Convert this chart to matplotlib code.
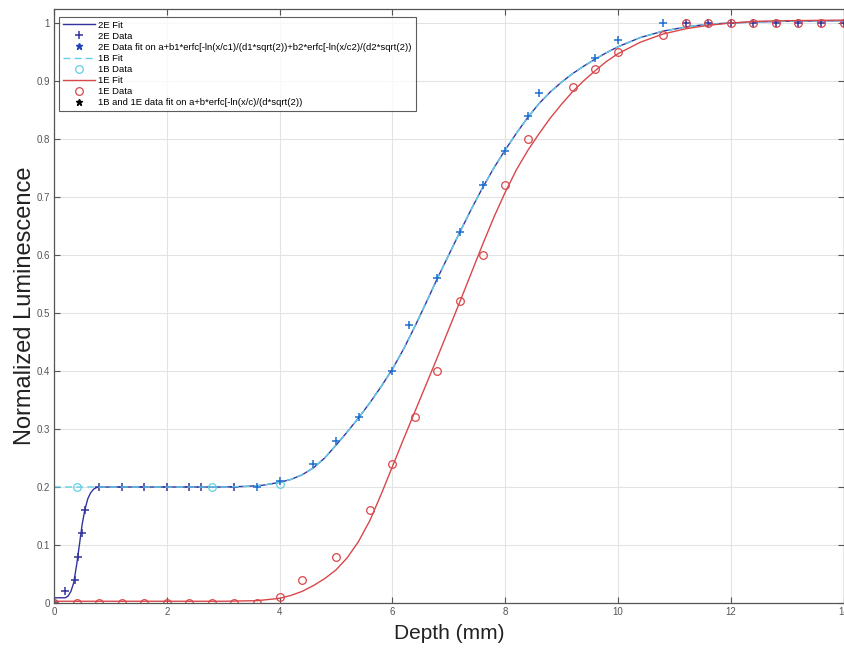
import matplotlib
matplotlib.use("Agg")
import matplotlib.pyplot as plt
import numpy as np

plt.rcParams['font.family'] = ['Liberation Sans', 'DejaVu Sans']

# 2E data (navy plus)
e2_x = [0.0, 0.2, 0.38, 0.42, 0.5, 0.55, 0.8, 1.2, 1.6, 2.0, 2.4, 2.6, 3.2,
        11.2, 11.6, 12.0, 12.4, 12.8, 13.2, 13.6, 14.0]
e2_y = [0.0, 0.02, 0.04, 0.08, 0.12, 0.16, 0.2, 0.2, 0.2, 0.2, 0.2, 0.2, 0.2,
        1.0, 1.0, 1.0, 1.0, 1.0, 1.0, 1.0, 1.0]

# blue plus points along the rising 1B curve
rise_x = [3.6, 4.0, 4.6, 5.0, 5.4, 6.0, 6.3, 6.8, 7.2, 7.6, 8.0, 8.4, 8.6,
          9.6, 10.0, 10.8]
rise_y = [0.2, 0.21, 0.24, 0.28, 0.32, 0.40, 0.48, 0.56, 0.64, 0.72, 0.78,
          0.84, 0.88, 0.94, 0.97, 1.0]

# 1B data (cyan circles)
b1_x = [0.4, 2.8, 4.0]
b1_y = [0.2, 0.2, 0.205]

# 1E data (red circles)
e1_x = [0.0, 0.4, 0.8, 1.2, 1.6, 2.0, 2.4, 2.8, 3.2, 3.6, 4.0, 4.4, 5.0, 5.6,
        6.0, 6.4, 6.8, 7.2, 7.6, 8.0, 8.4, 9.2, 9.6, 10.0, 10.8, 11.2, 11.6,
        12.0, 12.4, 12.8, 13.2, 13.6, 14.0]
e1_y = [0, 0, 0, 0, 0, 0, 0, 0, 0, 0, 0.01, 0.04, 0.08, 0.16,
        0.24, 0.32, 0.40, 0.52, 0.60, 0.72, 0.80, 0.89, 0.92, 0.95, 0.98, 1.0, 1.0,
        1.0, 1.0, 1.0, 1.0, 1.0, 1.0]

# 1B fit curve
fit1b_x = [0.0, 1.0, 2.0, 3.0, 3.4, 3.7, 4.0, 4.2, 4.4, 4.6, 4.8, 5.0, 5.2, 5.4,
           5.6, 5.8, 6.0, 6.2, 6.4, 6.6, 6.8, 7.0, 7.2, 7.4, 7.6, 7.8, 8.0, 8.2,
           8.4, 8.6, 8.8, 9.0, 9.2, 9.4, 9.6, 9.8, 10.0, 10.4, 10.8, 11.2, 11.6,
           12.0, 12.5, 13.0, 14.0]
fit1b_y = [0.2, 0.2, 0.2, 0.2, 0.201, 0.203, 0.208, 0.213, 0.221, 0.233, 0.25,
           0.272, 0.295, 0.319, 0.345, 0.373, 0.403, 0.438, 0.477, 0.518, 0.56,
           0.60, 0.64, 0.679, 0.716, 0.75, 0.781, 0.81, 0.837, 0.861, 0.881,
           0.898, 0.913, 0.926, 0.938, 0.949, 0.959, 0.975, 0.986, 0.993, 0.998,
           1.0, 1.002, 1.003, 1.004]

# 2E fit, first step (the rest follows the 1B fit)
fit2e_head_x = [0.0, 0.2, 0.25, 0.3, 0.35, 0.4, 0.45, 0.5, 0.55, 0.6, 0.65, 0.7, 0.75, 0.8]
fit2e_head_y = [0.009, 0.009, 0.012, 0.02, 0.035, 0.065, 0.1, 0.136, 0.162, 0.18,
                0.19, 0.196, 0.199, 0.2]

# 1E fit curve
fit1e_x = [0.0, 3.0, 3.6, 4.0, 4.2, 4.4, 4.6, 4.8, 5.0, 5.2, 5.4, 5.6, 5.8, 6.0,
           6.2, 6.4, 6.6, 6.8, 7.0, 7.2, 7.4, 7.6, 7.8, 8.0, 8.2, 8.4, 8.6, 8.8,
           9.0, 9.2, 9.4, 9.6, 9.8, 10.0, 10.4, 10.8, 11.2, 11.6, 12.0, 12.5,
           13.0, 14.0]
fit1e_y = [0.003, 0.003, 0.004, 0.008, 0.013, 0.02, 0.03, 0.042, 0.057, 0.078,
           0.106, 0.142, 0.187, 0.235, 0.283, 0.33, 0.377, 0.424, 0.472, 0.52,
           0.569, 0.618, 0.665, 0.708, 0.747, 0.78, 0.809, 0.836, 0.86, 0.882,
           0.901, 0.918, 0.934, 0.947, 0.967, 0.981, 0.99, 0.996, 1.0, 1.003,
           1.004, 1.005]

fit2e_x = fit2e_head_x + [x for x in fit1b_x if x > 0.8]
fit2e_y = fit2e_head_y + [y for x, y in zip(fit1b_x, fit1b_y) if x > 0.8]

navy = '#34349e'
cyan = '#5fd0e6'
red = '#d9474a'
blue = '#1f6fd0'

fig = plt.figure(figsize=(8.44, 6.48), dpi=100)
ax = fig.add_axes([54 / 844, 1 - 603 / 648, 789.5 / 844, 594.5 / 648])

ax.plot(fit2e_x, fit2e_y, '-', color=navy, lw=1.0, label='2E Fit')
ax.plot(e2_x, e2_y, '+', color=navy, ms=6, mew=1.1, label='2E Data')
ax.plot([], [], '*', color='#2040c0', ms=5,
        label='2E Data fit on a+b1*erfc[-ln(x/c1)/(d1*sqrt(2))+b2*erfc[-ln(x/c2)/(d2*sqrt(2))')
ax.plot(fit1b_x, fit1b_y, '--', color=cyan, lw=1.0, dashes=(5, 3), label='1B Fit')
ax.plot(b1_x, b1_y, 'o', mfc='none', mec=cyan, ms=5.5, mew=0.9, label='1B Data')
ax.plot(fit1e_x, fit1e_y, '-', color=red, lw=1.0, label='1E Fit')
ax.plot(e1_x, e1_y, 'o', mfc='none', mec=red, ms=5.5, mew=0.9, label='1E Data')
ax.plot([], [], '*', color='black', ms=5,
        label='1B and 1E data fit on a+b*erfc[-ln(x/c)/(d*sqrt(2))')
ax.plot(rise_x, rise_y, '+', color=blue, ms=6, mew=1.1, label='_nolegend_')

ax.set_xlim(0, 14)
ax.set_ylim(0, 1.025)
ax.set_xticks(np.arange(0, 15, 2))
ax.set_yticks(np.arange(0, 1.01, 0.1))
ax.set_yticklabels(['0', '0.1', '0.2', '0.3', '0.4', '0.5', '0.6', '0.7', '0.8', '0.9', '1'])
ax.grid(True, color='#e3e3e3', lw=0.8)
ax.set_axisbelow(True)
ax.tick_params(direction='in', length=4, width=0.8, colors='#555555',
               labelsize=7, top=True, right=True, pad=3)
for s in ax.spines.values():
    s.set_color('#555555')
    s.set_linewidth(0.9)

ax.set_xlabel('Depth (mm)', fontsize=15, color='#222222', labelpad=5)
ax.set_ylabel('Normalized Luminescence', fontsize=17, color='#222222', labelpad=0)

leg = ax.legend(loc='upper left', bbox_to_anchor=(0.006, 0.986), fontsize=6.8,
                frameon=True, fancybox=False, edgecolor='#333333',
                handlelength=3.4, handletextpad=0.4, labelspacing=0.22,
                borderpad=0.4, borderaxespad=0)
leg.get_frame().set_linewidth(0.8)

fig.savefig('out.png', dpi=100)
